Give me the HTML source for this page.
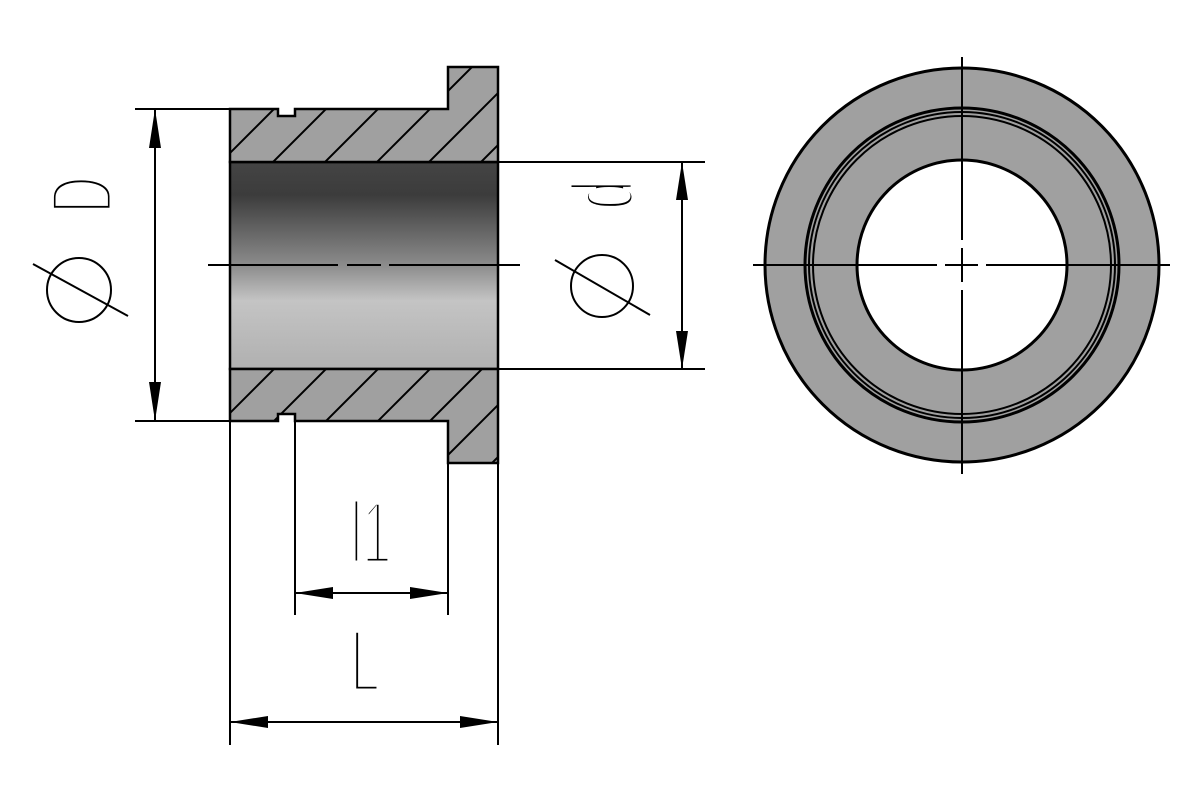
<!DOCTYPE html>
<html><head><style>html,body{margin:0;padding:0;background:#fff}svg{display:block}</style></head>
<body>
<svg width="1200" height="800" viewBox="0 0 1200 800" xmlns="http://www.w3.org/2000/svg" font-family="Liberation Sans, sans-serif">
<defs>
<linearGradient id="g" x1="0" y1="162" x2="0" y2="369" gradientUnits="userSpaceOnUse">
<stop offset="0" stop-color="#444"/>
<stop offset="0.16" stop-color="#3c3c3c"/>
<stop offset="0.5" stop-color="#8c8c8c"/>
<stop offset="0.67" stop-color="#c4c4c4"/>
<stop offset="1" stop-color="#b0b0b0"/>
</linearGradient>
<clipPath id="sec">
<path d="M230,109 L278,109 L278,116 L295,116 L295,109 L448,109 L448,67 L498,67 L498,162 L230,162 Z M230,369 L498,369 L498,463 L448,463 L448,421 L295,421 L295,414 L278,414 L278,421 L230,421 Z"/>
</clipPath>
</defs>
<rect x="230" y="162" width="268" height="207" fill="url(#g)" stroke="#000" stroke-width="2.5"/>
<path d="M230,109 L278,109 L278,116 L295,116 L295,109 L448,109 L448,67 L498,67 L498,162 L230,162 Z M230,369 L498,369 L498,463 L448,463 L448,421 L295,421 L295,414 L278,414 L278,421 L230,421 Z" fill="#a0a0a0"/>
<g clip-path="url(#sec)" stroke="#000" stroke-width="2">
<line x1="-139" y1="470" x2="271" y2="60"/>
<line x1="-87" y1="470" x2="323" y2="60"/>
<line x1="-35" y1="470" x2="375" y2="60"/>
<line x1="17" y1="470" x2="427" y2="60"/>
<line x1="69" y1="470" x2="479" y2="60"/>
<line x1="121" y1="470" x2="531" y2="60"/>
<line x1="173" y1="470" x2="583" y2="60"/>
<line x1="225" y1="470" x2="635" y2="60"/>
<line x1="277" y1="470" x2="687" y2="60"/>
<line x1="329" y1="470" x2="739" y2="60"/>
<line x1="381" y1="470" x2="791" y2="60"/>
<line x1="433" y1="470" x2="843" y2="60"/>
<line x1="485" y1="470" x2="895" y2="60"/>
</g>
<path d="M230,109 L278,109 L278,116 L295,116 L295,109 L448,109 L448,67 L498,67 L498,162 L230,162 Z M230,369 L498,369 L498,463 L448,463 L448,421 L295,421 L295,414 L278,414 L278,421 L230,421 Z" fill="none" stroke="#000" stroke-width="2.5"/>
<g stroke="#000" stroke-width="2">
<line x1="208" y1="265" x2="338" y2="265"/>
<line x1="347" y1="265" x2="381" y2="265"/>
<line x1="389" y1="265" x2="520" y2="265"/>
</g>
<g stroke="#000" stroke-width="2" fill="none">
<line x1="135" y1="109" x2="230" y2="109"/>
<line x1="135" y1="421" x2="230" y2="421"/>
<line x1="155" y1="109" x2="155" y2="421"/>
<line x1="498" y1="162" x2="705" y2="162"/>
<line x1="498" y1="369" x2="705" y2="369"/>
<line x1="682" y1="162" x2="682" y2="369"/>
<line x1="230" y1="421" x2="230" y2="745"/>
<line x1="498" y1="463" x2="498" y2="745"/>
<line x1="295" y1="421" x2="295" y2="615"/>
<line x1="448" y1="463" x2="448" y2="615"/>
<line x1="295" y1="593" x2="448" y2="593"/>
<line x1="230" y1="722" x2="498" y2="722"/>
<circle cx="79" cy="290" r="32"/>
<line x1="33" y1="264" x2="128" y2="316"/>
<circle cx="602" cy="286" r="31"/>
<line x1="555" y1="260" x2="650" y2="315"/>
</g>
<g fill="#000">
<polygon points="155,109 149,148 161,148"/>
<polygon points="155,421 149,382 161,382"/>
<polygon points="682,162 676,200 688,200"/>
<polygon points="682,369 676,331 688,331"/>
<polygon points="295,593 333,587 333,599"/>
<polygon points="448,593 410,587 410,599"/>
<polygon points="230,722 268,716 268,728"/>
<polygon points="498,722 460,716 460,728"/>
</g>
<g fill="#000" stroke="#fff" stroke-width="5" font-size="88" text-anchor="middle">
<text transform="translate(112,195) rotate(-90) scale(0.58,1)">D</text>
<text transform="translate(633,195) rotate(-90) scale(0.6,1)">d</text>
<text transform="translate(371,563) scale(0.6,1)">l1</text>
<text transform="translate(365,691) scale(0.6,1)">L</text>
</g>
<circle cx="962" cy="265" r="197" fill="#a0a0a0" stroke="#000" stroke-width="3"/>
<circle cx="962" cy="265" r="157" fill="none" stroke="#000" stroke-width="3"/>
<circle cx="962" cy="265" r="153" fill="none" stroke="#000" stroke-width="2"/>
<circle cx="962" cy="265" r="149" fill="none" stroke="#000" stroke-width="2"/>
<circle cx="962" cy="265" r="105" fill="#fff" stroke="#000" stroke-width="3"/>
<g stroke="#000" stroke-width="2">
<line x1="753" y1="265" x2="937" y2="265"/>
<line x1="945" y1="265" x2="978" y2="265"/>
<line x1="986" y1="265" x2="1170" y2="265"/>
<line x1="962" y1="57" x2="962" y2="240"/>
<line x1="962" y1="248" x2="962" y2="282"/>
<line x1="962" y1="290" x2="962" y2="474"/>
</g>
</svg>
</body></html>
